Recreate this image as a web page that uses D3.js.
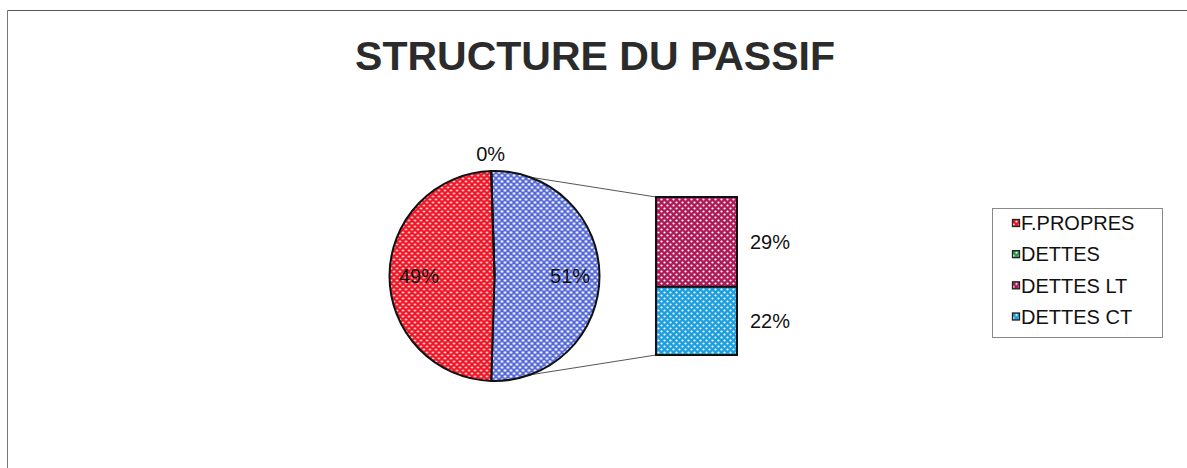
<!DOCTYPE html>
<html>
<head>
<meta charset="utf-8">
<script src="https://cdn.jsdelivr.net/npm/d3@7"></script>
<style>
  html, body { margin: 0; padding: 0; background: #fff; }
  svg { display: block; font-family: Arial, "Liberation Sans", sans-serif; }
</style>
</head>
<body>
<svg id="chart" width="1187" height="468"></svg>
<script>
// ---- data ----
const title = "STRUCTURE DU PASSIF";
const legendLabels = ["F.PROPRES", "DETTES", "DETTES LT", "DETTES CT"];
const legendValues = [49, 0, 29, 22];           // percent
const pieLabels = ["Autre", "F.PROPRES", "DETTES"]; // clockwise from the bar side
const pieValues = [51, 49, 0];
const barLabels = ["DETTES LT", "DETTES CT"];
const barValues = [29, 22];
const seriesColors = ["#ee1626", "#2a9a4a", "#ad1a58", "#1c9fdc"];
const otherColor = "#5468d6";

const svg = d3.select("#chart");
const W = 1187, H = 468;

// patterns (dotted fill)
const defs = svg.append("defs");
function makePattern(id, color, rr) {
  const p = defs.append("pattern").attr("id", id)
    .attr("patternUnits", "userSpaceOnUse").attr("width", 6).attr("height", 6);
  p.append("rect").attr("width", 6).attr("height", 6).attr("fill", color);
  p.append("circle").attr("cx", 1.5).attr("cy", 1.5).attr("r", rr).attr("fill", "#fff");
  p.append("circle").attr("cx", 4.5).attr("cy", 4.5).attr("r", rr).attr("fill", "#fff");
  return `url(#${id})`;
}
const fills = {};
legendLabels.forEach((l, i) => fills[l] = makePattern("pat" + i, seriesColors[i], 1.1));
fills["Autre"] = makePattern("patOther", otherColor, 1.3);

// frame (partial, as in the scan)
svg.append("line").attr("x1", 7.5).attr("y1", 10.5).attr("x2", W).attr("y2", 10.5)
  .attr("stroke", "#555").attr("stroke-width", 1);
svg.append("line").attr("x1", 7.5).attr("y1", 10.5).attr("x2", 7.5).attr("y2", H)
  .attr("stroke", "#777").attr("stroke-width", 1);

// title
svg.append("text").attr("x", 595).attr("y", 70).attr("text-anchor", "middle")
  .attr("font-size", 41).attr("font-weight", "bold").attr("fill", "#2b2b2b")
  .text(title);

// ---- pie ----
const cx = 494.5, cy = 276, r = 105;
const otherSpan = pieValues[0] / d3.sum(pieValues) * 2 * Math.PI;
const start = Math.PI / 2 - otherSpan / 2;
const pie = d3.pie().sort(null).value(d => d).startAngle(start).endAngle(start + 2 * Math.PI);
const arcs = pie(pieValues);
const arc = d3.arc().innerRadius(0).outerRadius(r);

// bar geometry via scale
const barX0 = 656, barX1 = 737, barTop = 197, barBottom = 355;
const yBar = d3.scaleLinear().domain([0, d3.sum(barValues)]).range([barBottom, barTop]);

// connector lines from the "other" slice edges to bar corners
const otherArc = arcs[0];
const pt = a => [cx + r * Math.sin(a), cy - r * Math.cos(a)];
const pTop = pt(otherArc.startAngle), pBot = pt(otherArc.endAngle);
svg.append("line").attr("x1", pTop[0]).attr("y1", pTop[1]).attr("x2", barX0).attr("y2", yBar(d3.sum(barValues)))
  .attr("stroke", "#555").attr("stroke-width", 1);
svg.append("line").attr("x1", pBot[0]).attr("y1", pBot[1]).attr("x2", barX0).attr("y2", yBar(0))
  .attr("stroke", "#555").attr("stroke-width", 1);

const gPie = svg.append("g").attr("transform", `translate(${cx},${cy})`);
gPie.selectAll("path").data(arcs).join("path")
  .attr("d", arc)
  .attr("fill", (d, i) => fills[pieLabels[i]])
  .attr("stroke", "#111").attr("stroke-width", 2).attr("stroke-linejoin", "round");

// pie labels
const labelArc = d3.arc().innerRadius(r * 0.72).outerRadius(r * 0.72);
const outArc = d3.arc().innerRadius(r + 17).outerRadius(r + 17);
gPie.selectAll("text").data(arcs).join("text")
  .attr("transform", d => `translate(${(d.value === 0 ? outArc : labelArc).centroid(d)})`)
  .attr("text-anchor", "middle").attr("dy", "0.36em")
  .attr("font-size", 20).attr("fill", "#111")
  .text(d => d.value + "%");

// ---- bar of pie ----
let acc = 0;
const segs = barValues.map((v, i) => { const s = { label: barLabels[i], v, y0: acc, y1: acc + v }; acc += v; return s; });
const total = d3.sum(barValues);
const gBar = svg.append("g");
gBar.selectAll("rect").data(segs).join("rect")
  .attr("x", barX0).attr("width", barX1 - barX0)
  .attr("y", d => yBar(total - d.y0))
  .attr("height", d => yBar(total - d.y1) - yBar(total - d.y0))
  .attr("fill", d => fills[d.label])
  .attr("stroke", "#111").attr("stroke-width", 2);
gBar.selectAll("text").data(segs).join("text")
  .attr("x", barX1 + 13)
  .attr("y", d => yBar(total - (d.y0 + d.y1) / 2))
  .attr("dy", "0.36em").attr("font-size", 20).attr("fill", "#111")
  .text(d => d.v + "%");

// ---- legend ----
const lg = svg.append("g");
lg.append("rect").attr("x", 992.5).attr("y", 208.5).attr("width", 170).attr("height", 129)
  .attr("fill", "#fff").attr("stroke", "#888").attr("stroke-width", 1);
const yLeg = d3.scalePoint().domain(legendLabels).range([223, 316.5]);
const items = lg.selectAll("g.item").data(legendLabels).join("g").attr("class", "item")
  .attr("transform", d => `translate(1012, ${yLeg(d)})`);
items.append("rect").attr("x", 0.5).attr("y", -3.5).attr("width", 7).attr("height", 7)
  .attr("fill", d => fills[d]).attr("stroke", "#222").attr("stroke-width", 1.3);
items.append("text").attr("x", 9).attr("dy", "0.36em").attr("font-size", 20).attr("fill", "#111")
  .text(d => d);
</script>
</body>
</html>
